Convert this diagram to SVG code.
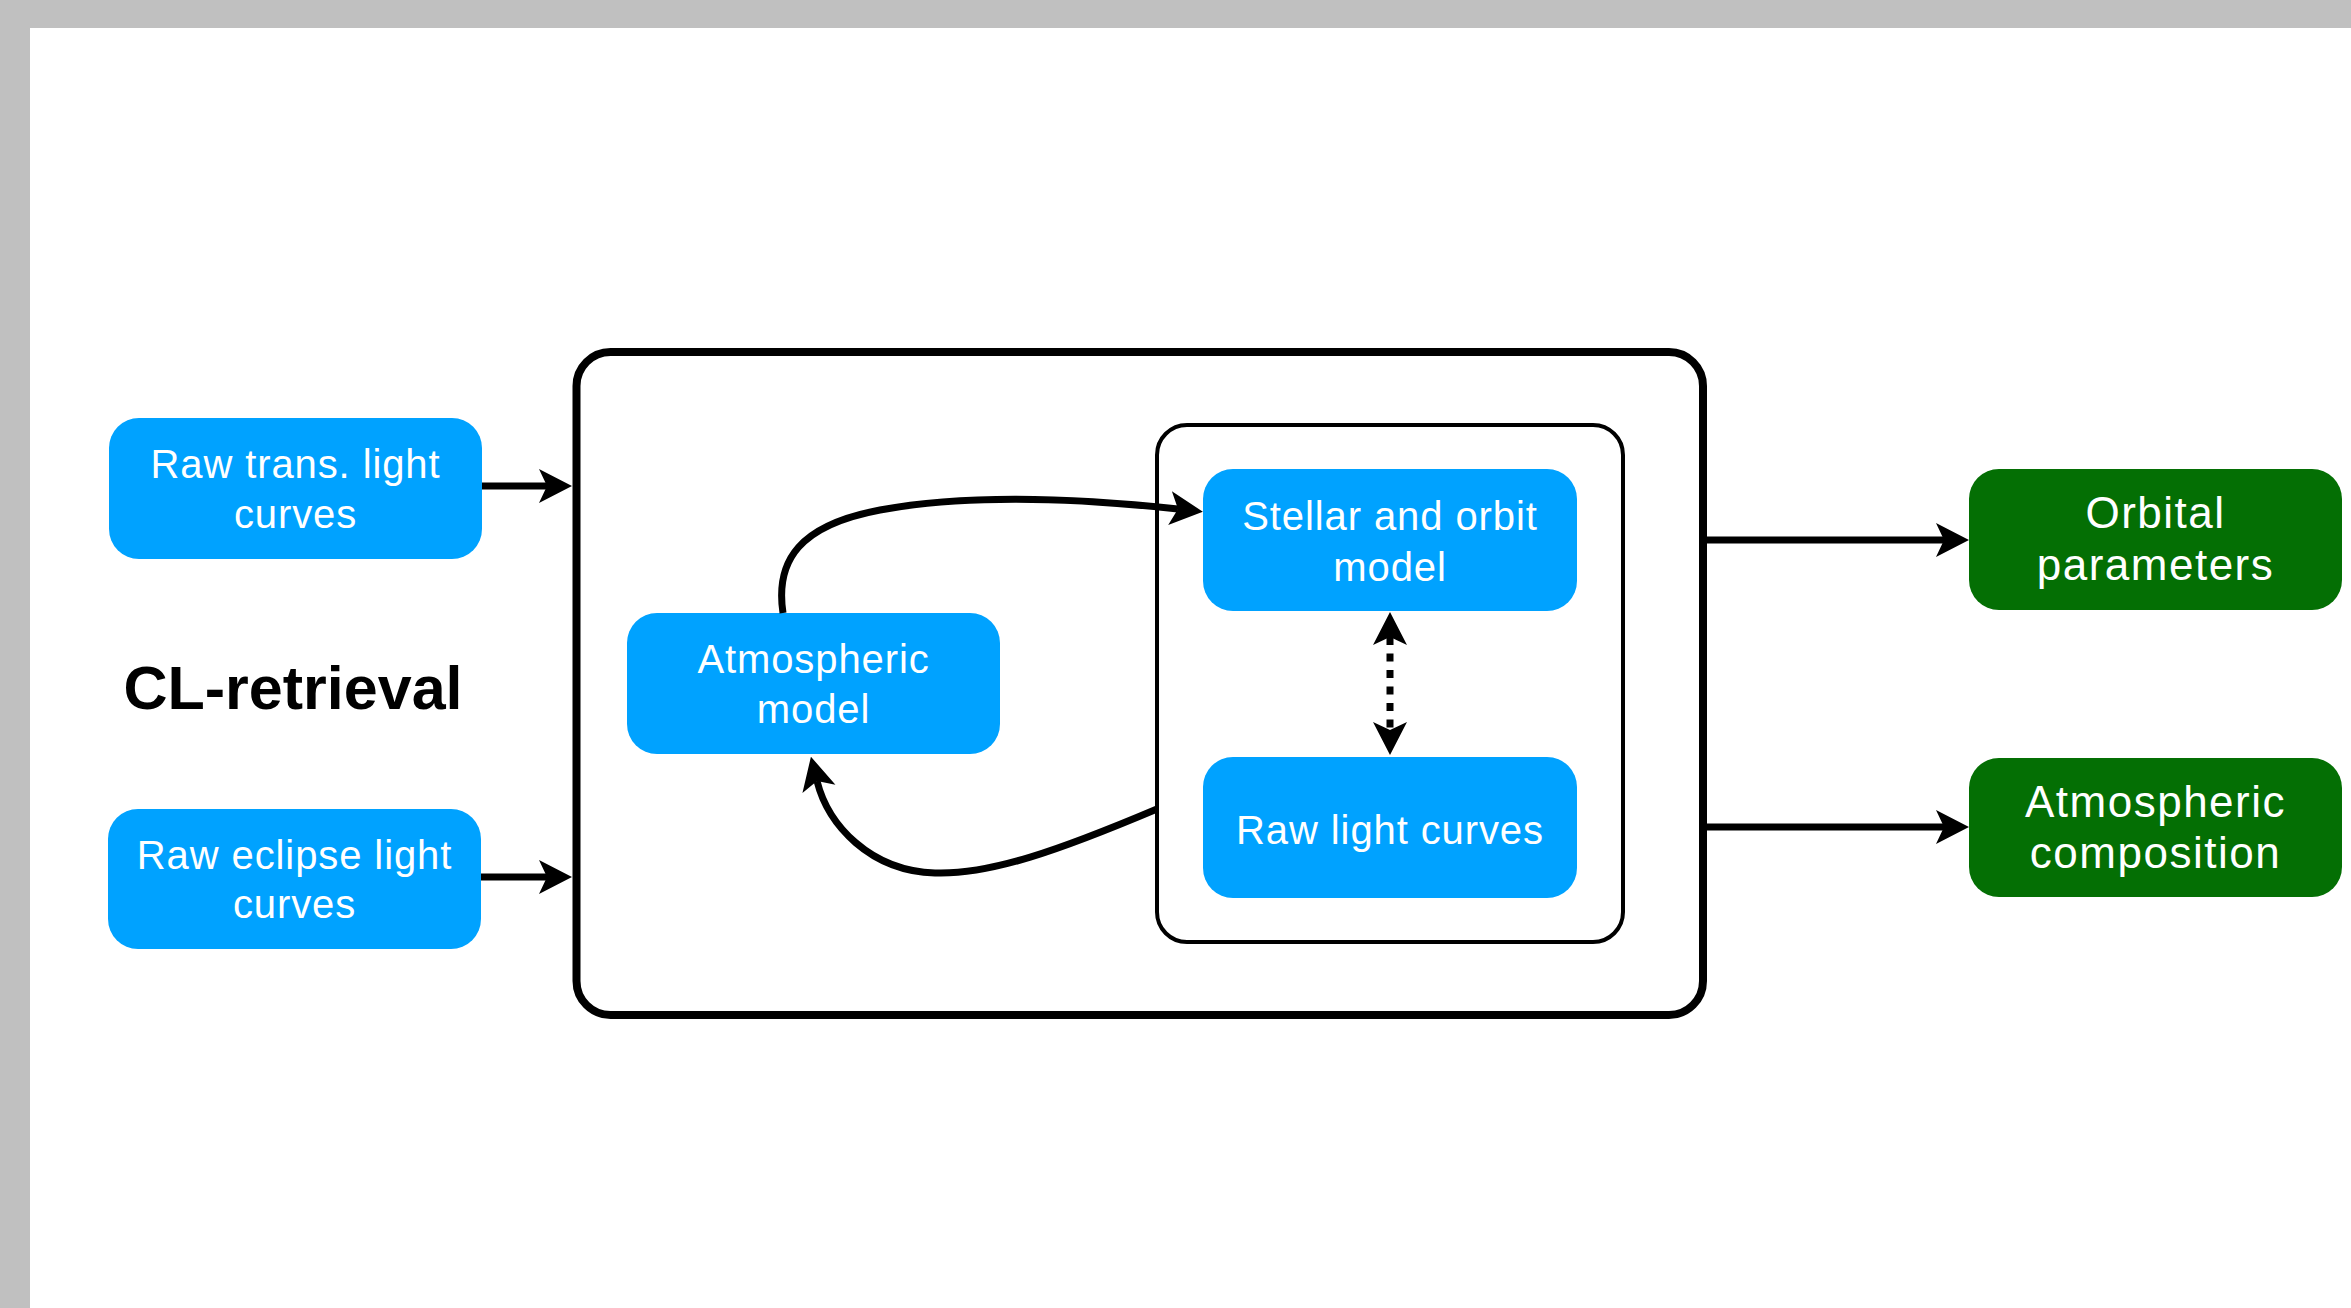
<svg xmlns="http://www.w3.org/2000/svg" width="2351" height="1308" viewBox="0 0 2351 1308">
<style>
.blue{fill:#00a2ff}
.green{fill:#046f04}
.lbl{font-family:"Liberation Sans",Arial,Helvetica,sans-serif;fill:#fff;text-anchor:middle}
.b{font-size:40px;letter-spacing:0.9px}
.g{font-size:44px;letter-spacing:1.5px}
.edge{fill:none;stroke:#000;stroke-width:7}
.frame{fill:none;stroke:#000}
</style>
<defs>
<marker id="ah" markerUnits="userSpaceOnUse" markerWidth="40" markerHeight="40" viewBox="-10 -20 40 40" refX="0" refY="0" orient="auto-start-reverse">
<path d="M25,0 L-8,-17 L0,0 L-8,17 Z" fill="#000"/>
</marker>
</defs>
<rect x="0" y="0" width="2351" height="1308" fill="#fff"/>
<rect x="0" y="0" width="2351" height="28" fill="#c0c0c0"/>
<rect x="0" y="0" width="30" height="1308" fill="#c0c0c0"/>

<g id="cl-retrieval-box">
<rect class="frame" x="576.5" y="352" width="1126.5" height="663" rx="34" stroke-width="8"/>
</g>
<g id="inner-box">
<rect class="frame" x="1157" y="425" width="466" height="517" rx="30" stroke-width="4"/>
</g>

<g id="title">
<text x="293" y="709" font-family="'Liberation Sans',Arial,Helvetica,sans-serif" font-weight="bold" font-size="61" text-anchor="middle" fill="#000">CL-retrieval</text>
</g>

<g id="raw-trans">
<rect class="blue" x="109" y="418" width="373" height="141" rx="30"/>
<text class="lbl b" x="295.5" y="478">Raw trans. light</text>
<text class="lbl b" x="295.5" y="528">curves</text>
</g>
<g id="raw-eclipse">
<rect class="blue" x="108" y="809" width="373" height="140" rx="30"/>
<text class="lbl b" x="294.5" y="869">Raw eclipse light</text>
<text class="lbl b" x="294.5" y="918">curves</text>
</g>
<g id="atmospheric-model">
<rect class="blue" x="627" y="613" width="373" height="141" rx="30"/>
<text class="lbl b" x="813.5" y="673">Atmospheric</text>
<text class="lbl b" x="813.5" y="723">model</text>
</g>
<g id="stellar-orbit-model">
<rect class="blue" x="1203" y="469" width="374" height="142" rx="30"/>
<text class="lbl b" x="1390" y="530">Stellar and orbit</text>
<text class="lbl b" x="1390" y="581">model</text>
</g>
<g id="raw-light-curves">
<rect class="blue" x="1203" y="757" width="374" height="141" rx="30"/>
<text class="lbl b" x="1390" y="844">Raw light curves</text>
</g>
<g id="orbital-parameters">
<rect class="green" x="1969" y="469" width="373" height="141" rx="30"/>
<text class="lbl g" x="2155.5" y="528">Orbital</text>
<text class="lbl g" x="2155.5" y="580">parameters</text>
</g>
<g id="atmospheric-composition">
<rect class="green" x="1969" y="758" width="373" height="139" rx="30"/>
<text class="lbl g" x="2155.5" y="817">Atmospheric</text>
<text class="lbl g" x="2155.5" y="868">composition</text>
</g>

<g id="connectors">
<path class="edge" d="M482,486 L547,486" marker-end="url(#ah)"/>
<path class="edge" d="M481,877 L547,877" marker-end="url(#ah)"/>
<path class="edge" d="M1707,540 L1944,540" marker-end="url(#ah)"/>
<path class="edge" d="M1707,827 L1944,827" marker-end="url(#ah)"/>
<path class="edge" d="M783,613 C775,560 800,525 880,510 C950,497 1050,495 1178,509" marker-end="url(#ah)"/>
<path class="edge" d="M1157,809 C1060,850 990,875 935,873 C870,871 828,825 817,781" marker-end="url(#ah)"/>
<path class="edge" d="M1390,637 L1390,730" stroke-dasharray="8 8.5" marker-start="url(#ah)" marker-end="url(#ah)"/>
</g>
</svg>
